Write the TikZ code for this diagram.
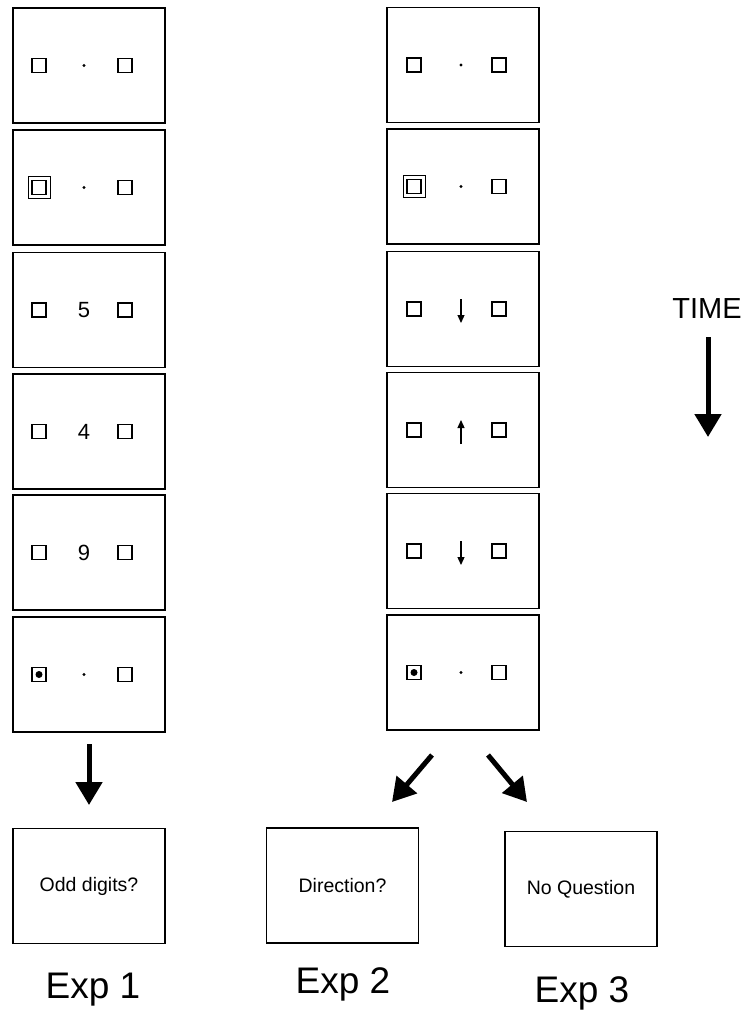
\documentclass[tikz,border=0pt]{standalone}
\usepackage{fontspec}
\setmainfont{Liberation Sans}
\usetikzlibrary{arrows.meta, calc}

\tikzset{
  screen/.style={draw,line width=1.7pt,minimum width=152pt,minimum height=115pt,inner sep=0pt},
  placebox/.style={draw,line width=1.3pt,minimum size=14pt,inner sep=0pt},
  outerbox/.style={draw,line width=1pt,minimum size=22pt,inner sep=0pt},
  fixdot/.style={circle,fill,minimum size=3.2pt,inner sep=0pt},
  targetdot/.style={circle,fill,minimum size=7pt,inner sep=0pt},
  digit/.style={font=\fontsize{22}{22}\selectfont,inner sep=0pt},
  cuearrow/.style={line width=1.3pt,-{Triangle[width=7pt,length=8pt]}},
  bigarrow/.style={line width=5pt,-{Triangle[width=26pt,length=23pt]}},
  question/.style={font=\fontsize{19.5}{19.5}\selectfont},
  explabel/.style={font=\fontsize{37}{37}\selectfont,inner sep=0pt},
}

\begin{document}
\begin{tikzpicture}[x=1pt,y=-1pt]
  \useasboundingbox (0,0) rectangle (744,1016);
  %\draw[help lines,step=50] (0,0) grid (744,1016);

  % screens
  \foreach \i/\y in {1/65.5,2/187.5,3/310,4/431.5,5/552.5,6/674.5}
    \node[screen] (L\i) at (89,\y) {};
  \foreach \i/\y in {1/65,2/186.5,3/309,4/430,5/551,6/672.5}
    \node[screen] (R\i) at (463,\y) {};

  % placeholders
  \foreach \i in {1,...,6} {
    \node[placebox] (L\i-l) at ($(L\i)+(-50,0)$) {};
    \node[placebox] (L\i-r) at ($(L\i)+(36,0)$) {};
    \node[placebox] (R\i-l) at ($(R\i)+(-49,0)$) {};
    \node[placebox] (R\i-r) at ($(R\i)+(36,0)$) {};
  }
  \node[outerbox] (L2-c) at (L2-l) {};
  \node[outerbox] (R2-c) at (R2-l) {};
  \node[targetdot] (L6-t) at (L6-l) {};
  \node[targetdot] (R6-t) at (R6-l) {};

  % fixation
  \foreach \i in {1,2,6} {
    \node[fixdot] (L\i-f) at ($(L\i)+(-5,0)$) {};
    \node[fixdot] (R\i-f) at ($(R\i)+(-2,0)$) {};
  }
  \node[digit] (L3-d) at ($(L3)+(-5,0)$) {5};
  \node[digit] (L4-d) at ($(L4)+(-5,0)$) {4};
  \node[digit] (L5-d) at ($(L5)+(-5,0)$) {9};

  \draw[cuearrow] ($(R3)+(-2,-10)$) -- ($(R3)+(-2,14)$);
  \draw[cuearrow] ($(R4)+(-2,14)$) -- ($(R4)+(-2,-10)$);
  \draw[cuearrow] ($(R5)+(-2,-10)$) -- ($(R5)+(-2,14)$);

  % questions
  \node[screen,question] (Q1) at (89,886) {Odd digits?};
  \node[screen,question] (Q2) at (342.5,885.5) {Direction?};
  \node[screen,question] (Q3) at (581,889) {No Question};

  \node[explabel] (E1) at (93,990) {Exp 1};
  \node[explabel] (E2) at (343,984) {Exp 2};
  \node[explabel] (E3) at (582,993) {Exp 3};

  % arrows
  \coordinate (a1) at (89,744);   \coordinate (b1) at (89,805);
  \coordinate (a2) at (432,755);  \coordinate (b2) at (392,802);
  \coordinate (a3) at (488,755);  \coordinate (b3) at (527,802);
  \draw[bigarrow] (a1) -- (b1);
  \draw[bigarrow] (a2) -- (b2);
  \draw[bigarrow] (a3) -- (b3);

  \node[font=\fontsize{29}{29}\selectfont,inner sep=0pt] (time) at (707,309) {TIME};
  \coordinate (t1) at (708,337);  \coordinate (t2) at (708,437);
  \draw[bigarrow] (t1) -- (t2);
\end{tikzpicture}
\end{document}
